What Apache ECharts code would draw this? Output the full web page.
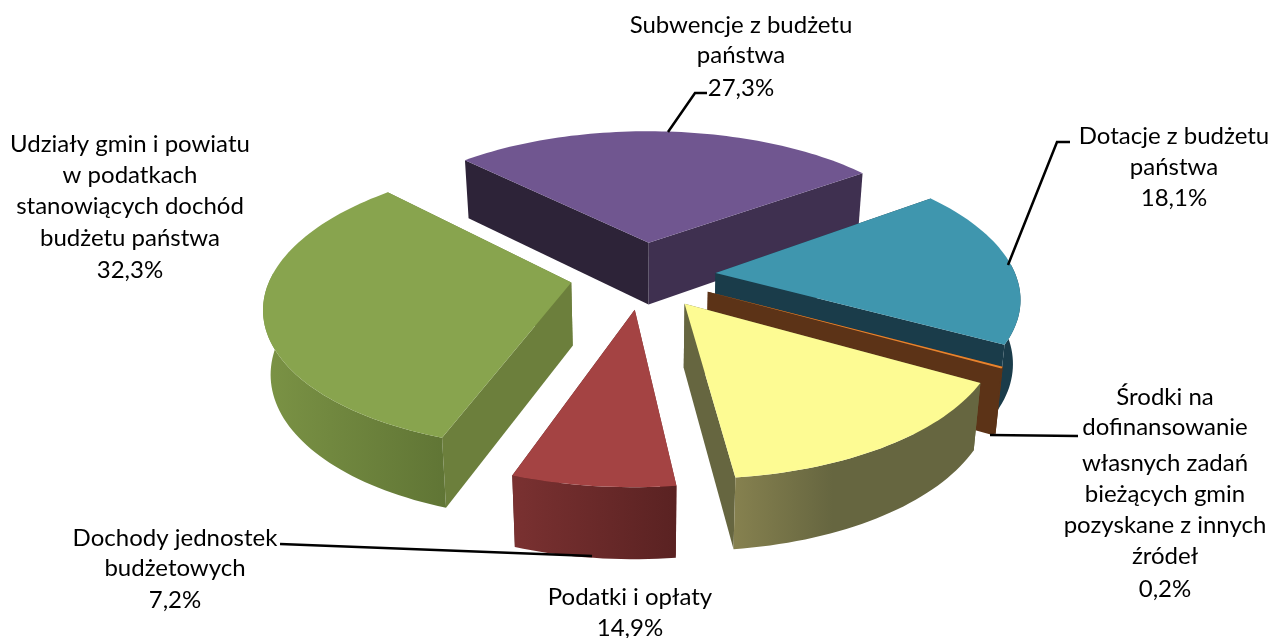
<!DOCTYPE html>
<html><head><meta charset="utf-8">
<style>html,body{margin:0;padding:0;background:#fff}#c{width:1269px;height:638px}</style>
<script src="https://cdn.jsdelivr.net/npm/echarts@6/dist/echarts.min.js"></script>
</head><body><div id="c"></div>
<script>
// Data, clockwise from the start angle
const categories = ['Subwencje z budżetu państwa','Dotacje z budżetu państwa','Środki na dofinansowanie własnych zadań bieżących gmin pozyskane z innych źródeł','Podatki i opłaty','Dochody jednostek budżetowych','Udziały gmin i powiatu w podatkach stanowiących dochód budżetu państwa'];
const values = [27.3,18.1,0.2,14.9,7.2,32.3];
const labelLines = [
  ['Subwencje z budżetu','państwa'],
  ['Dotacje z budżetu','państwa'],
  ['Środki na','dofinansowanie','własnych zadań','bieżących gmin','pozyskane z innych','źródeł'],
  ['Podatki i opłaty'],
  ['Dochody jednostek','budżetowych'],
  ['Udziały gmin i powiatu','w podatkach','stanowiących dochód','budżetu państwa']
];
// Styles
const topColors = ['#705690','#3f96ae','#e8842e','#fdfb93','#a44343','#88a44e'];
const startWallColors = ['#2d2338','#1a3c4a','#5c3317','#666640','#7a3131','#6c7f3c'];
const endWallColors = ['#3f3050','#1a3c4a','#5c3317','#666640','#5a2222','#6c7f3c'];
const rimColors = [
  [[0,'#3f3050'],[1,'#3f3050']],
  [[0,'#1a3c4a'],[1,'#1a3c4a']],
  [[0,'#5c3317'],[1,'#5c3317']],
  [[0,'#86814f'],[0.4,'#666640'],[1,'#666640']],
  [[0,'#7a3131'],[1,'#5a2222']],
  [[0,'#7b9345'],[1,'#607535']]
];
const drawOrder = [0,1,2,5,4,3];
// Layout
const labelX = [741,1174,1165,630,175,130];
const labelY = [[25,55,88],[136,167,198],[397,427,463,494,525,556,589],[597,628],[538,568,600],[144,175,206,238,270]];
const leaders = [[[668,132],[695,93],[707,93]],[[1008,265],[1057,142],[1070,142]],[[990,435],[1078,436]],[[592,556],[280,544]]];
const view = {cx:643,cy:275,radius:300,yScale:138,persp:0.155,explode:0.243,depth:63,startAngle:315.5,bottomShrink:0.98,rimFrom:85,rimTo:275};
const rad = d => d*Math.PI/180;

function project(X,Y){
  const s = 1/(1-view.persp*Y);
  return {x:view.cx+view.radius*X*s, y:view.cy+view.yScale*Y*s, s};
}
function topPt(X,Y){const p=project(X,Y);return [p.x,p.y];}
function botPt(X,Y){
  const p=project(X,Y);
  return [view.cx+(p.x-view.cx)*view.bottomShrink, p.y+view.depth*(1+0.6*(p.s-1))];
}
const total = values.reduce((a,b)=>a+b,0);
const sliceAngles = [];
values.reduce((acc,v)=>{const a0=acc,a1=acc+v/total*360;sliceAngles.push([a0,a1]);return a1;},view.startAngle);

function renderSlice(params, api){
  const i = api.value(0);
  const [a0,a1] = sliceAngles[i];
  const mid = rad((a0+a1)/2);
  const ax = view.explode*Math.sin(mid), ay = -view.explode*Math.cos(mid);
  const n = Math.max(2,Math.ceil((a1-a0)/1.5));
  const arc = [], rim = [];
  for(let k=0;k<=n;k++){
    const deg = a0+(a1-a0)*k/n, a = rad(deg), norm = deg%360;
    const pt = [ax+Math.sin(a), ay-Math.cos(a)];
    arc.push(pt);
    if(norm>=view.rimFrom && norm<=view.rimTo) rim.push(pt);
  }
  const t = arc.map(p=>topPt(p[0],p[1]));
  const b = arc.map(p=>botPt(p[0],p[1]));
  const at = topPt(ax,ay), ab = botPt(ax,ay);
  const poly = (pts,fill)=>({type:'polygon',shape:{points:pts},style:{fill,stroke:null}});
  const wallA = {y:t[0][1],el:poly([at,t[0],b[0],ab],startWallColors[i])};
  const wallB = {y:t[n][1],el:poly([at,t[n],b[n],ab],endWallColors[i])};
  const walls = [wallA,wallB].sort((p,q)=>p.y-q.y).map(w=>w.el);
  const children = walls.slice();
  if(rim.length>1){
    const grad = new echarts.graphic.LinearGradient(0,0,1,0,rimColors[i].map(s=>({offset:s[0],color:s[1]})));
    const rt = rim.map(p=>topPt(p[0],p[1])), rb = rim.map(p=>botPt(p[0],p[1]));
    children.push(poly(rt.concat(rb.reverse()),grad));
  }
  children.push(poly([at].concat(t),topColors[i]));
  return {type:'group',children};
}

const graphics = [];
leaders.forEach(pts=>graphics.push({type:'polyline',z:5,shape:{points:pts},style:{stroke:'#000',lineWidth:2.5,fill:null}}));
const FONT = 'Lato, sans-serif';
labelLines.forEach((lines,i)=>{
  lines.concat([values[i].toFixed(1).replace('.',',')+'%']).forEach((txt,j)=>{
    graphics.push({type:'text',z:6,x:labelX[i],y:labelY[i][j],style:{text:txt,font:'24px '+FONT,fill:'#000',textAlign:'center',textVerticalAlign:'middle'}});
  });
});

const chart = echarts.init(document.getElementById('c'),null,{renderer:'canvas'});
chart.setOption({
  animation:false,
  backgroundColor:'#fff',
  graphic:graphics,
  series:[{type:'custom',coordinateSystem:'none',renderItem:renderSlice,silent:true,
    data:drawOrder.map(i=>({name:categories[i],value:[i,values[i]]}))}]
});
</script></body></html>
